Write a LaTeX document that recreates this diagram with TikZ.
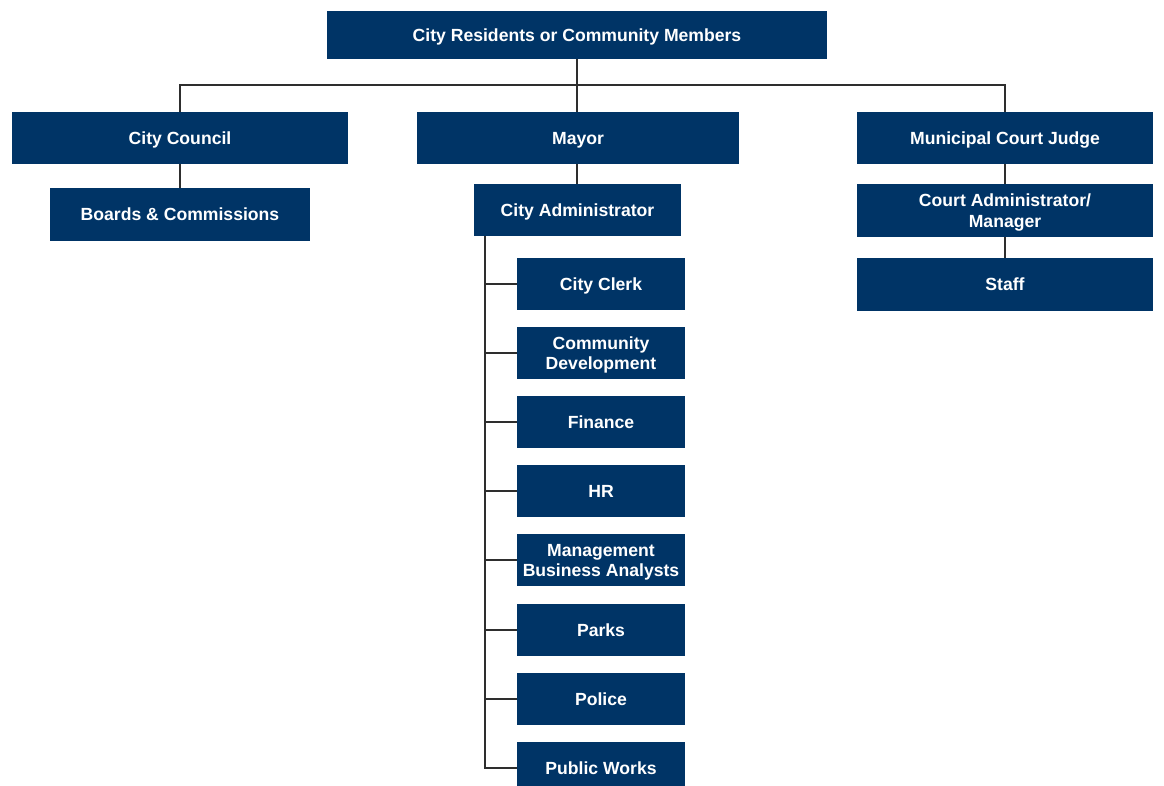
\documentclass[tikz,border=0pt]{standalone}
\usepackage{fontspec}
\setmainfont{Liberation Sans}
\usetikzlibrary{positioning}
\definecolor{navy}{HTML}{003466}
\definecolor{wire}{HTML}{2E2E2E}

\begin{document}
\begin{tikzpicture}[x=1pt,y=-1pt]
				\tikzset{block/.style={fill=navy,text=white,align=center,inner sep=0pt,
						text height=12.7pt,text depth=0pt,
						font=\fontsize{17.6}{20.5}\selectfont\bfseries},
					twoline/.style={text height=33.2pt},
					link/.style={draw=wire,line width=1.6pt}}
				\clip (0,0) rectangle (1164,785);
				\fill[white] (0,0) rectangle (1164,785);
				\node [block, minimum width=500pt, minimum height=48pt] (residents) at (577,35) {City Residents or Community Members};
				\node [block, minimum width=336pt, minimum height=52pt] (council) at (180,138) {City Council};
				\node [block, minimum width=322pt, minimum height=52pt] (mayor) at (578,138) {Mayor};
				\node [block, minimum width=296pt, minimum height=52pt] (judge) at (1005,138) {Municipal Court Judge};
				\node [block, minimum width=260pt, minimum height=53pt] (boards) at (180,214.5) {Boards \& Commissions};
				\node [block, minimum width=207pt, minimum height=52pt] (cadmin) at (577.5,210) {City Administrator};
				\node [block, twoline, minimum width=296pt, minimum height=53pt] (courtadmin) at (1005,210.5) {Court Administrator/\\Manager};
				\node [block, minimum width=296pt, minimum height=53pt] (staff) at (1005,284.5) {Staff};
				\coordinate (bus) at (577,85);
				\coordinate (spine) at (485,236);
				\path[link] (residents) -- (bus)
							(bus) -| (council)
							(bus) -- (bus |- mayor.north)
							(bus) -| (judge)
							(council) -- (boards)
							(cadmin.north -| bus) -- (bus |- mayor.south)
							(judge) -- (courtadmin)
							(courtadmin) -- (staff);
				\foreach \name/\label/\y/\opt in {clerk/City Clerk/284/, commdev/Community\\Development/353/twoline,
						finance/Finance/422/, hr/HR/491/, mba/Management\\Business Analysts/560/twoline,
						parks/Parks/630/, police/Police/699/, works/Public Works/768/}{
					\node [block, \opt, minimum width=168pt, minimum height=52pt] (\name) at (601,\y) {\label};
					\path[link] (spine) |- (\name);
				}
			\end{tikzpicture}
\end{document}
